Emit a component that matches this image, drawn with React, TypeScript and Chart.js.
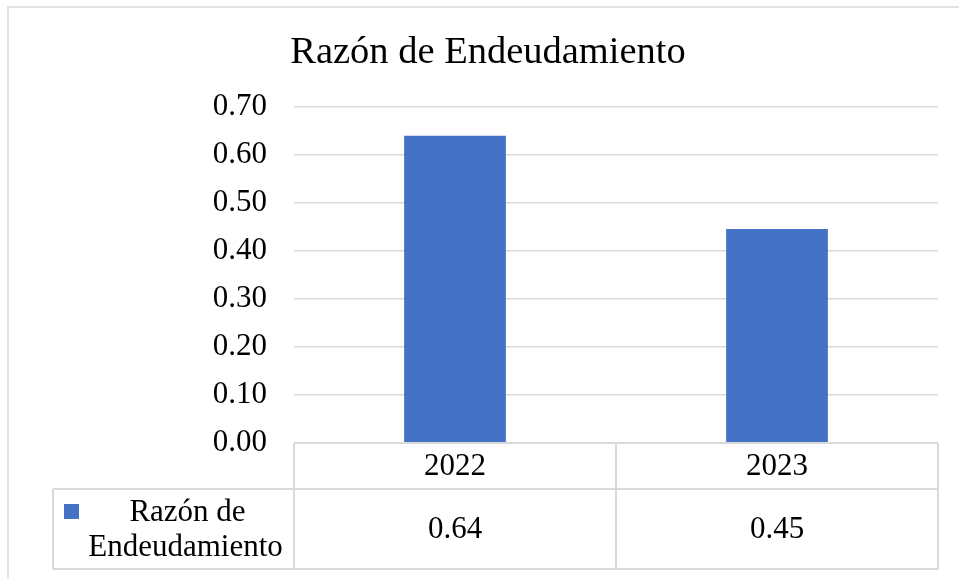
import React, { useEffect, useRef } from "react";
import { Chart, registerables } from "chart.js";

Chart.register(...registerables);

const chartTitle = "Razón de Endeudamiento";
const categories = ["2022", "2023"];
const seriesName = "Razón de Endeudamiento";
const seriesLines = ["Razón de", "Endeudamiento"];
const values = [0.64, 0.446];
const tableValues = ["0.64", "0.45"];
const yMin = 0;
const yMax = 0.7;
const yStep = 0.1;

const SERIF = "'Liberation Serif', 'Times New Roman', serif";
const BAR = "#4472c4";
const LINE = "#d9d9d9";

const tablePlugin = {
  id: "excelTable",
  afterDraw(chart: any) {
    const ctx = chart.ctx as CanvasRenderingContext2D;
    const area = chart.chartArea;
    const xs = chart.scales.x;
    const W = chart.width;
    const H = chart.height;
    ctx.save();

    // outer border
    ctx.strokeStyle = LINE;
    ctx.lineWidth = 1.5;
    ctx.beginPath();
    ctx.moveTo(8, H);
    ctx.lineTo(8, 7);
    ctx.lineTo(W, 7);
    ctx.stroke();

    // title
    ctx.fillStyle = "#000";
    ctx.font = `38.5px ${SERIF}`;
    ctx.textAlign = "center";
    ctx.textBaseline = "alphabetic";
    ctx.fillText(chartTitle, 488, 63);

    // data table
    const top = area.bottom;
    const rowMid = top + 46;
    const bottom = top + 126;
    const legendLeft = 53;
    const n = categories.length;
    const bounds: number[] = [area.left];
    for (let i = 0; i < n - 1; i++) {
      bounds.push((xs.getPixelForTick(i) + xs.getPixelForTick(i + 1)) / 2);
    }
    bounds.push(area.right);

    ctx.strokeStyle = LINE;
    ctx.lineWidth = 2;
    ctx.beginPath();
    ctx.moveTo(area.left, top);
    ctx.lineTo(area.right, top);
    ctx.moveTo(legendLeft, rowMid);
    ctx.lineTo(area.right, rowMid);
    ctx.moveTo(legendLeft, bottom);
    ctx.lineTo(area.right, bottom);
    ctx.moveTo(legendLeft, rowMid);
    ctx.lineTo(legendLeft, bottom);
    bounds.forEach((b) => {
      ctx.moveTo(b, top);
      ctx.lineTo(b, bottom);
    });
    ctx.stroke();

    ctx.fillStyle = "#000";
    ctx.font = `31px ${SERIF}`;
    ctx.textAlign = "center";
    ctx.textBaseline = "middle";
    for (let i = 0; i < n; i++) {
      const cx = xs.getPixelForTick(i);
      ctx.fillText(categories[i], cx, (top + rowMid) / 2 + 1);
      ctx.fillText(tableValues[i], cx, (rowMid + bottom) / 2 + 1);
    }

    // legend cell
    const sqX = 64;
    const sqSize = 15;
    const line1 = (rowMid + bottom) / 2 - 17;
    const line2 = (rowMid + bottom) / 2 + 18;
    ctx.fillStyle = BAR;
    ctx.fillRect(sqX, line1 - 8, sqSize, sqSize);
    ctx.fillStyle = "#000";
    const textCx = (sqX + sqSize + area.left) / 2;
    ctx.fillText(seriesLines[0], textCx + 1, line1 + 1);
    ctx.fillText(seriesLines[1], textCx - 1, line2 + 1);

    ctx.restore();
  },
};

export default function App() {
  const ref = useRef<HTMLCanvasElement | null>(null);

  useEffect(() => {
    if (!ref.current) return;
    const chart = new Chart(ref.current, {
      type: "bar",
      data: {
        labels: categories,
        datasets: [
          {
            label: seriesName,
            data: values,
            backgroundColor: BAR,
            borderWidth: 0,
            barPercentage: 0.316,
            categoryPercentage: 1,
          },
        ],
      },
      options: {
        responsive: false,
        animation: false,
        devicePixelRatio: 1,
        layout: { padding: { top: 107, bottom: 136, left: 0, right: 21 } },
        plugins: {
          legend: { display: false },
          title: { display: false },
          tooltip: { enabled: false },
        },
        scales: {
          x: {
            display: false,
            offset: true,
          },
          y: {
            min: yMin,
            max: yMax,
            afterFit: (s: any) => {
              s.width = 294;
            },
            border: { display: false },
            grid: { color: LINE, lineWidth: 1.5, drawTicks: false },
            ticks: {
              stepSize: yStep,
              padding: 27,
              color: "#000",
              font: { family: SERIF, size: 31 },
              callback: (v: any) => Number(v).toFixed(2),
            },
          },
        },
      },
      plugins: [tablePlugin],
    });
    return () => chart.destroy();
  }, []);

  return (
    <div style={{ position: "fixed", left: 0, top: 0, width: 959, height: 579, background: "#fff" }}>
      <canvas ref={ref} width={959} height={579} style={{ width: 959, height: 579, display: "block" }} />
    </div>
  );
}
